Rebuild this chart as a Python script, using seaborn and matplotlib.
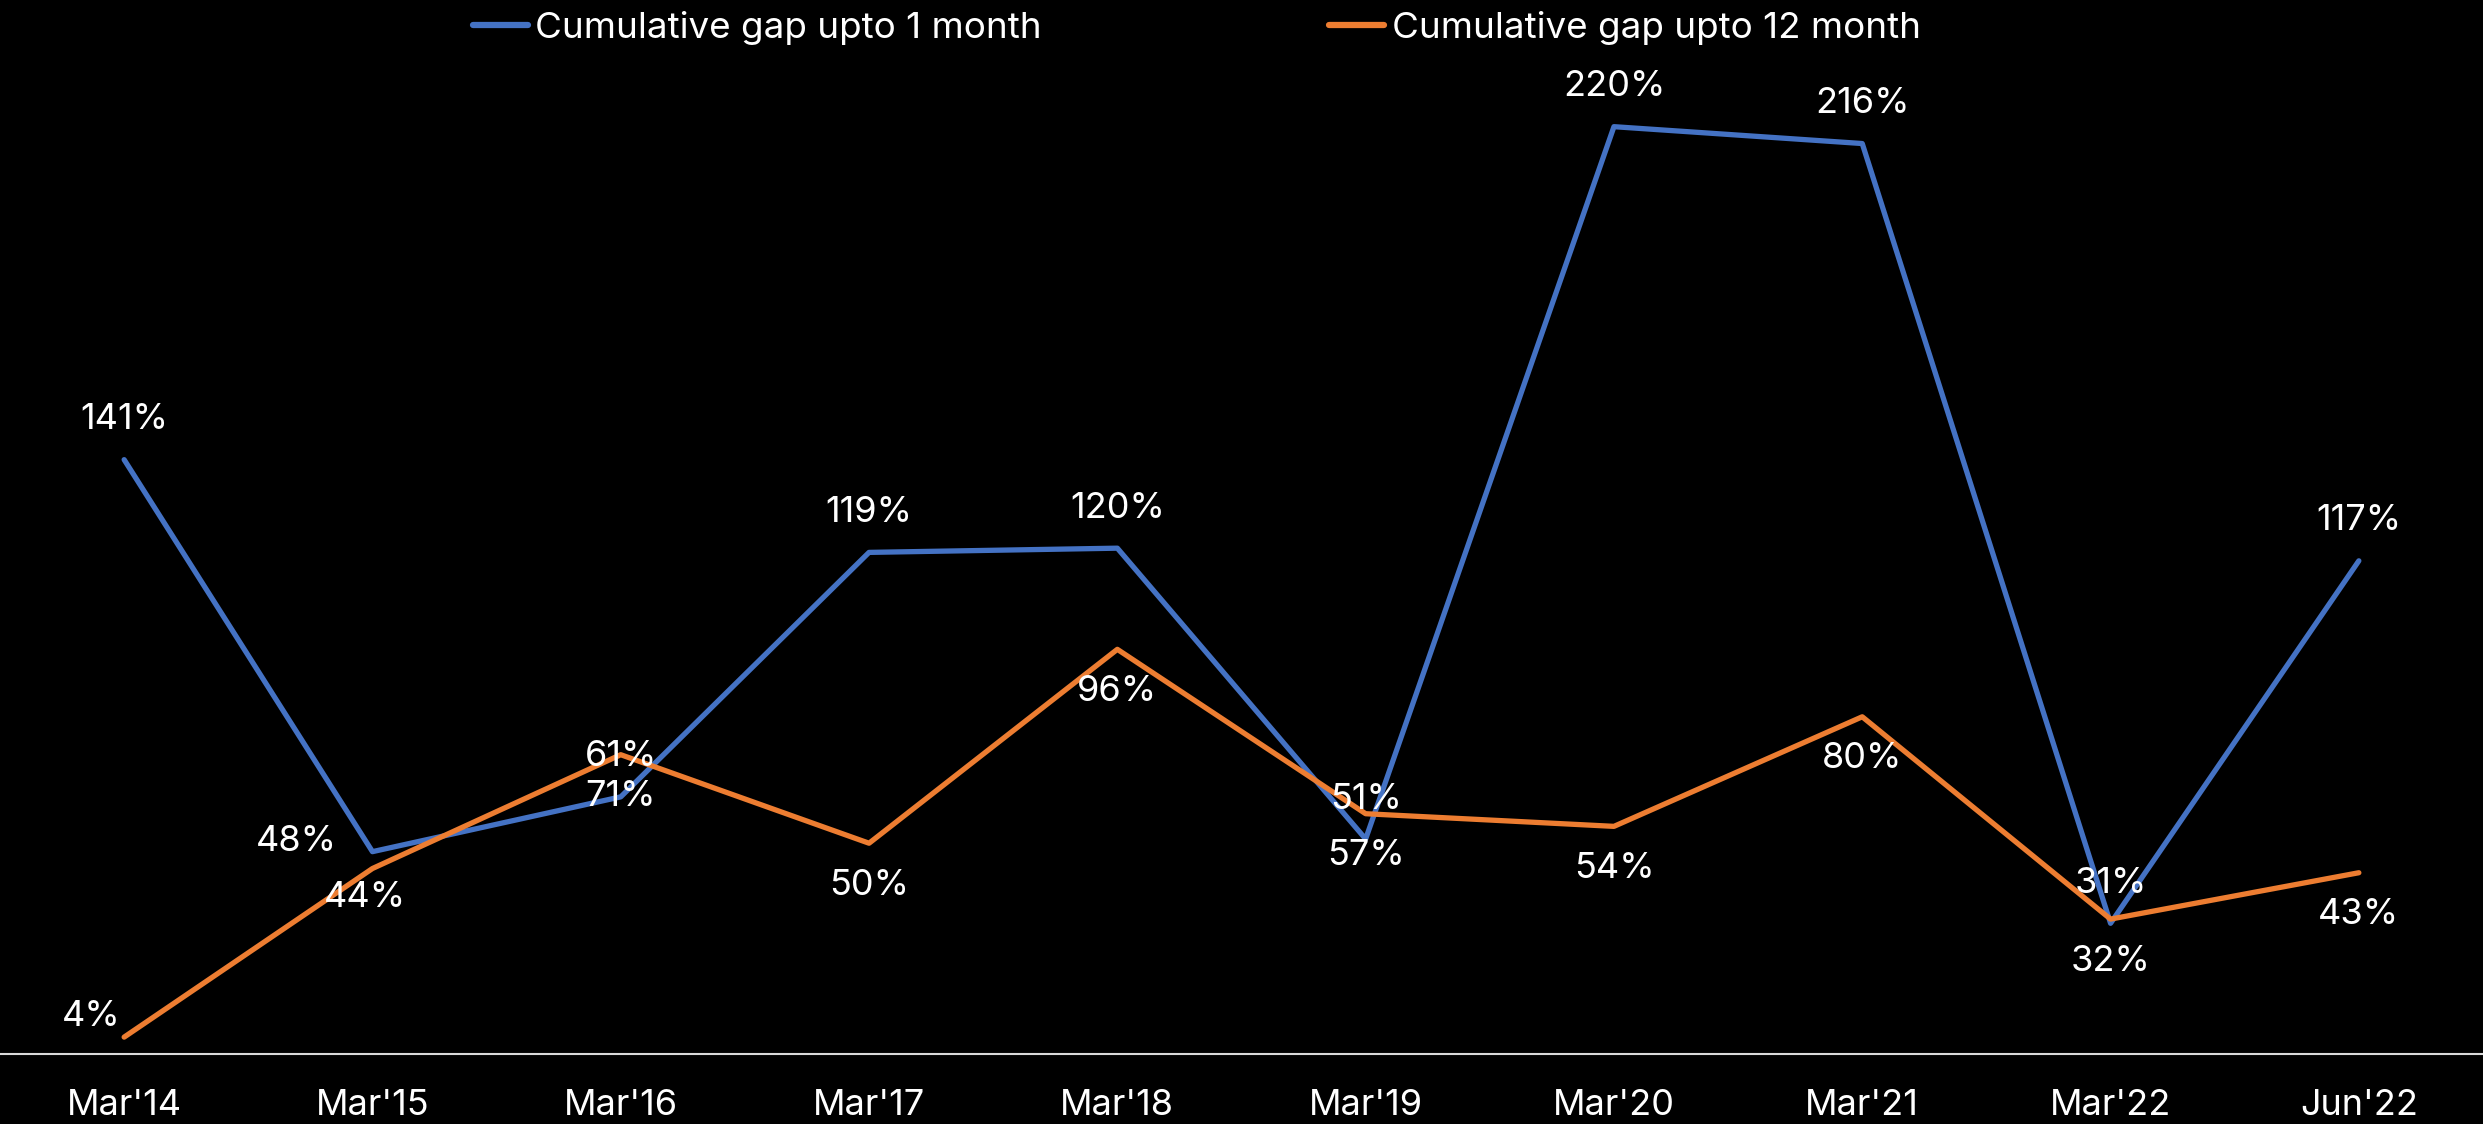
import matplotlib
matplotlib.use("Agg")
import matplotlib.pyplot as plt
import pandas as pd
import seaborn as sns

PERIODS = ["Mar'14", "Mar'15", "Mar'16", "Mar'17", "Mar'18",
           "Mar'19", "Mar'20", "Mar'21", "Mar'22", "Jun'22"]
GAP_1M = [141, 48, 61, 119, 120, 51, 220, 216, 31, 117]
GAP_12M = [4, 44, 71, 50, 96, 57, 54, 80, 32, 43]
SERIES = ["Cumulative gap upto 1 month", "Cumulative gap upto 12 month"]
COLORS = {SERIES[0]: "#4472C4", SERIES[1]: "#ED7D31"}

# label offsets in pixels (dx, dy); default: 1 month above, 12 month below
OFFSETS_1M = {1: (-76, 10)}
OFFSETS_12M = {0: (-33, 21), 1: (-8, -29)}

sns.set_theme(style="white")
plt.rcParams["font.family"] = ["Inter", "DejaVu Sans"]

df = pd.concat([
    pd.DataFrame({"period": PERIODS, "value": GAP_1M, "series": SERIES[0]}),
    pd.DataFrame({"period": PERIODS, "value": GAP_12M, "series": SERIES[1]}),
])

fig = plt.figure(figsize=(24.83, 11.24), dpi=100, facecolor="black")
ax = fig.add_axes([0, 0.0623, 1, 0.9375], facecolor="black")

sns.lineplot(data=df, x="period", y="value", hue="series", palette=COLORS,
             sort=False, linewidth=3.8, ax=ax, legend=False)

for i, v in enumerate(GAP_1M):
    dx, dy = OFFSETS_1M.get(i, (0, 40))
    ax.annotate(f"{v}%", (i, v), xytext=(dx, dy), textcoords="offset pixels",
                ha="center", va="center", color="white", fontsize=26)
for i, v in enumerate(GAP_12M):
    dx, dy = OFFSETS_12M.get(i, (0, -42))
    ax.annotate(f"{v}%", (i, v), xytext=(dx, dy), textcoords="offset pixels",
                ha="center", va="center", color="white", fontsize=26)

ax.set_xlim(-0.5, len(PERIODS) - 0.5)
ax.set_ylim(0, 250)
ax.set_xlabel("")
ax.set_ylabel("")
ax.set_yticks([])
ax.tick_params(axis="x", length=0, pad=25, labelsize=26, labelcolor="white")
for side in ["top", "left", "right"]:
    ax.spines[side].set_visible(False)
ax.spines["bottom"].set_color("#d9d9d9")
ax.spines["bottom"].set_linewidth(1.5)

handles = [plt.Line2D([], [], color=COLORS[s], linewidth=4.5) for s in SERIES]
fig.legend(handles, SERIES, loc="center", bbox_to_anchor=(0.482, 0.975), ncol=2,
           frameon=False, fontsize=26.5, labelcolor="white", handlelength=1.5,
           handletextpad=0.2, columnspacing=7.8)

fig.savefig("out.png", dpi=100, facecolor="black")
